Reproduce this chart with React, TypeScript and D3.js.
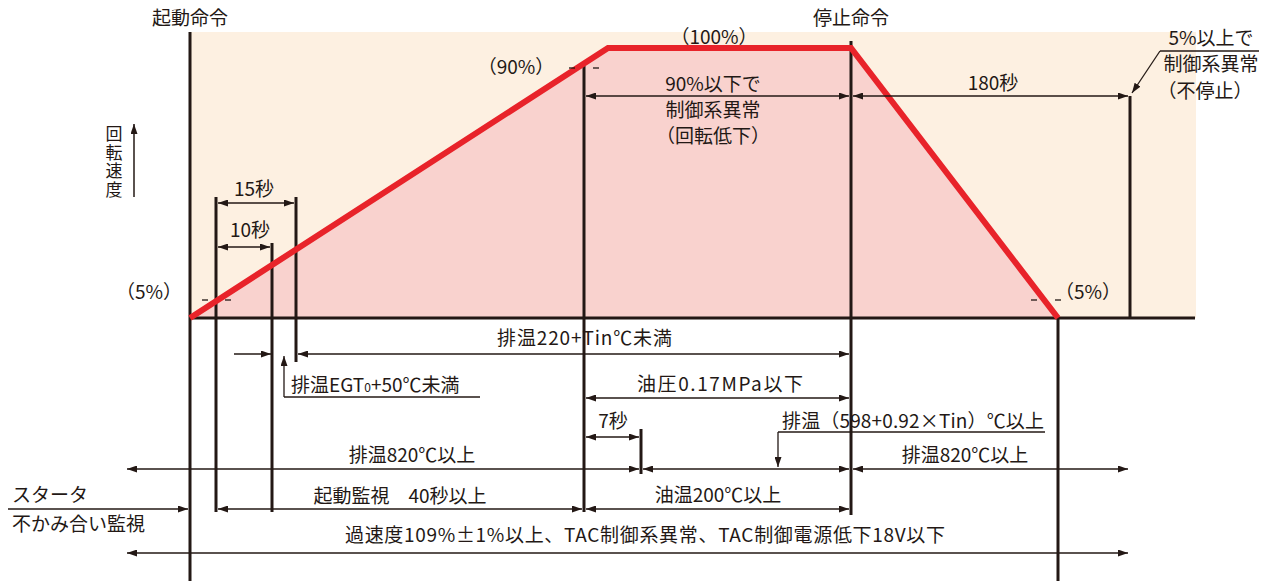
import React from "react";
import * as d3 from "d3";

const W = 1271;
const H = 581;

// Diagram time axis (not to scale): event positions in diagram units
const eventNames = ["start", "n5", "t10", "t15", "n90", "n100", "t7", "stop", "end", "t180", "frameEnd"];
const eventUnits = [0, 26, 82, 106, 394, 418, 451, 661, 868, 940, 1005];

// Speed profile (%)
const profileEvents = ["start", "n100", "stop", "end"];
const profileSpeed = [0, 100, 100, 0];

// Speed level labels
const speedLabels = ["（5%）", "（90%）", "（100%）"];

const INK = "#231815";
const RED = "#e8232a";
const PINK = "#f9d2ce";
const BEIGE = "#fdf0e1";
const FONT = "'Noto Sans CJK JP', 'Noto Sans CJK SC', sans-serif";

const ev: Record<string, number> = {};
eventNames.forEach((n, i) => (ev[n] = eventUnits[i]));

const x = d3.scaleLinear().domain([0, 1081]).range([190, 1271]);
const y = d3.scaleLinear().domain([0, 100]).range([318, 48]);

const X = (name: string) => x(ev[name]);

function Arrow({ x1, y1, x2, y2, s = false, e = true }: any) {
  return (
    <line
      x1={x1}
      y1={y1}
      x2={x2}
      y2={y2}
      stroke={INK}
      strokeWidth={1.5}
      markerStart={s ? "url(#ah)" : undefined}
      markerEnd={e ? "url(#ah)" : undefined}
    />
  );
}

function T({ x, y, children, anchor = "middle", size = 19, ls = 0, tl }: any) {
  return (
    <text
      x={x}
      y={y}
      textAnchor={anchor}
      fontSize={size}
      fontFamily={FONT}
      fill={INK}
      letterSpacing={ls}
      textLength={tl}
      lengthAdjust={tl ? "spacing" : undefined}
    >
      {children}
    </text>
  );
}

function VLine({ xv, y1, y2, w = 3 }: any) {
  return <line x1={xv} x2={xv} y1={y1} y2={y2} stroke={INK} strokeWidth={w} />;
}

function Dash({ cx, cy }: any) {
  return <line x1={cx - 3} x2={cx + 3} y1={cy} y2={cy} stroke={INK} strokeWidth={1.3} />;
}

export default function App() {
  const pts: [number, number][] = profileEvents.map((n, i) => [X(n), y(profileSpeed[i])]);
  const line = d3.line()(pts) as string;
  const area = d3.area<[number, number]>().x((d) => d[0]).y0(y(0)).y1((d) => d[1])(pts) as string;

  const xs = X("start");
  const x5 = X("n5");
  const x10 = X("t10");
  const x15 = X("t15");
  const x90 = X("n90");
  const x7 = X("t7");
  const xStop = X("stop");
  const xEnd = X("end");
  const x180 = X("t180");
  const xFrame = X("frameEnd");
  const leftArrow = x(-63);
  const rightArrow = x(938);

  const y0 = y(0);

  return (
    <svg
      width={W}
      height={H}
      viewBox={`0 0 ${W} ${H}`}
      style={{ position: "absolute", left: 0, top: 0, background: "#fff" }}
    >
      <defs>
        <marker
          id="ah"
          viewBox="0 0 10 7"
          refX={10}
          refY={3.5}
          markerWidth={10}
          markerHeight={7}
          markerUnits="userSpaceOnUse"
          orient="auto-start-reverse"
        >
          <path d="M0,0L10,3.5L0,7z" fill={INK} />
        </marker>
      </defs>

      {/* background panel */}
      <rect x={xs} y={32} width={xFrame - xs + 1} height={y0 - 32} fill={BEIGE} />
      <path d={area} fill={PINK} />

      {/* vertical lines */}
      <VLine xv={xs} y1={32} y2={581} />
      <VLine xv={x5} y1={197} y2={512} />
      <VLine xv={x10} y1={243} y2={512} />
      <VLine xv={x15} y1={197} y2={362} />
      <VLine xv={x90} y1={66} y2={512} />
      <VLine xv={xStop} y1={41} y2={515} />
      <VLine xv={x7} y1={429} y2={474} />
      <VLine xv={xEnd} y1={y0} y2={581} />
      <VLine xv={x180} y1={96} y2={y0} />
      {/* baseline */}
      <line x1={xs} x2={xFrame} y1={y0} y2={y0} stroke={INK} strokeWidth={3} />

      {/* speed profile */}
      <path d={line} fill="none" stroke={RED} strokeWidth={6} strokeLinejoin="miter" />

      {/* headers */}
      <T x={xs} y={25}>起動命令</T>
      <T x={xStop} y={25}>停止命令</T>

      {/* vertical axis label */}
      <text
        x={114}
        y={125}
        fontSize={17}
        fontFamily={FONT}
        fill={INK}
        letterSpacing={1.6}
        style={{ writingMode: "vertical-rl" as any }}
      >
        回転速度
      </text>
      <Arrow x1={134} y1={197} x2={134} y2={124} />

      {/* speed labels */}
      <T x={149} y={299}>{speedLabels[0]}</T>
      <Dash cx={205} cy={300} />
      <Dash cx={228} cy={300} />
      <T x={516} y={74}>{speedLabels[1]}</T>
      <Dash cx={572} cy={68} />
      <Dash cx={596} cy={68} />
      <T x={714} y={44}>{speedLabels[2]}</T>
      <Dash cx={1034} cy={300} />
      <Dash cx={1058} cy={300} />
      <T x={1088} y={299}>{speedLabels[0]}</T>

      {/* 15s / 10s */}
      <T x={254} y={196}>15秒</T>
      <Arrow x1={x5 + 2} y1={203} x2={x15 - 2} y2={203} s />
      <T x={250} y={237}>10秒</T>
      <Arrow x1={x5 + 2} y1={247} x2={x10 - 2} y2={247} s />

      {/* 90% window */}
      <T x={713} y={91}>90%以下で</T>
      <T x={713} y={117}>制御系異常</T>
      <T x={713} y={143}>（回転低下）</T>
      <Arrow x1={x90 + 2} y1={96} x2={xStop - 2} y2={96} s />

      {/* 180 s */}
      <T x={993} y={90}>180秒</T>
      <Arrow x1={xStop + 2} y1={96} x2={x180 - 2} y2={96} s />

      {/* 5% above note */}
      <T x={1211} y={45}>5%以上で</T>
      <T x={1211} y={71}>制御系異常</T>
      <T x={1205} y={98}>（不停止）</T>
      <line x1={1259} y1={51} x2={1160} y2={51} stroke={INK} strokeWidth={1.3} />
      <line x1={1160} y1={51} x2={1132} y2={93} stroke={INK} strokeWidth={1.3} markerEnd="url(#ah)" />

      {/* exhaust temp 220 */}
      <T x={497} y={345} anchor="start" tl={175}>排温220+Tin℃未満</T>
      <Arrow x1={234} y1={354} x2={x10 - 1} y2={354} />
      <Arrow x1={x15 + 2} y1={354} x2={xStop - 2} y2={354} s />

      {/* EGT0 */}
      <line x1={480} y1={397} x2={284} y2={397} stroke={INK} strokeWidth={1.3} />
      <line x1={284} y1={397} x2={284} y2={356} stroke={INK} strokeWidth={1.3} markerEnd="url(#ah)" />
      <text x={291} y={392} fontSize={19} fontFamily={FONT} fill={INK}>
        排温EGT<tspan fontSize={12}>0</tspan>+50℃未満
      </text>

      {/* oil pressure */}
      <T x={637} y={391} anchor="start" tl={166}>油圧0.17MPa以下</T>
      <Arrow x1={x90 + 2} y1={398} x2={xStop - 2} y2={398} s />

      {/* 7 s */}
      <T x={613} y={428}>7秒</T>
      <Arrow x1={x90 + 2} y1={437} x2={x7 - 2} y2={437} s />

      {/* exhaust 598 */}
      <T x={782} y={428} anchor="start" tl={262}>排温（598+0.92×Tin）℃以上</T>
      <line x1={1045} y1={432} x2={778} y2={432} stroke={INK} strokeWidth={1.3} />
      <line x1={778} y1={432} x2={778} y2={467} stroke={INK} strokeWidth={1.3} markerEnd="url(#ah)" />

      {/* exhaust 820 */}
      <T x={412} y={462}>排温820℃以上</T>
      <T x={965} y={462}>排温820℃以上</T>
      <Arrow x1={leftArrow} y1={469} x2={x7 - 2} y2={469} s />
      <Arrow x1={x7 + 2} y1={469} x2={xStop - 2} y2={469} s />
      <Arrow x1={xStop + 2} y1={469} x2={rightArrow} y2={469} s />

      {/* starter */}
      <T x={12} y={502} anchor="start">スタータ</T>
      <T x={12} y={531} anchor="start">不かみ合い監視</T>
      <Arrow x1={8} y1={509} x2={xs - 2} y2={509} />
      <T x={400} y={503}>起動監視　40秒以上</T>
      <Arrow x1={x5 + 2} y1={509} x2={x90 - 2} y2={509} s />
      <T x={718} y={502}>油温200℃以上</T>
      <Arrow x1={x90 + 2} y1={509} x2={xStop - 2} y2={509} s />

      {/* overspeed */}
      <T x={345} y={542} anchor="start" tl={600}>過速度109%±1%以上、TAC制御系異常、TAC制御電源低下18V以下</T>
      <Arrow x1={leftArrow} y1={553} x2={rightArrow} y2={553} s />
    </svg>
  );
}
